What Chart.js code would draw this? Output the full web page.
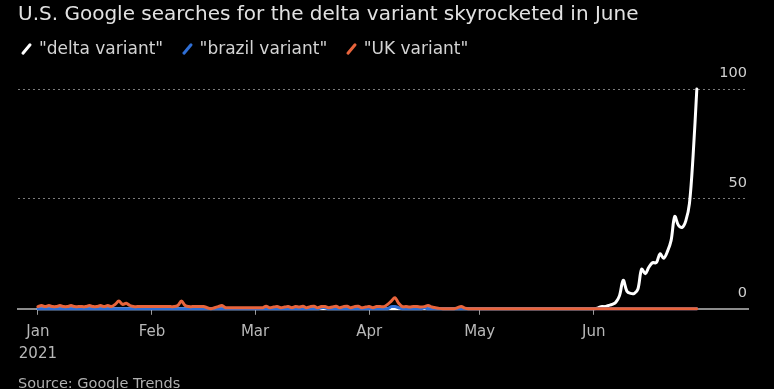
<!DOCTYPE html>
<html lang="en">
<head>
    <meta charset="UTF-8">
    <title>Delta variant searches</title>
    <script src="https://cdn.jsdelivr.net/npm/chart.js"></script>
    <style>
        body {
            margin: 0;
            background: #000;
            font-family: 'DejaVu Sans', sans-serif;
            overflow: hidden;
        }
        .wrap {
            position: relative;
            width: 774px;
            height: 389px;
        }
        .title {
            position: absolute;
            left: 18px;
            top: 1px;
            font-size: 20px;
            line-height: 25px;
            color: #e2e2e2;
            white-space: nowrap;
        }
        .legend {
            position: absolute;
            left: 20px;
            top: 37px;
            font-size: 17px;
            line-height: 22px;
            color: #d4d4d4;
            white-space: nowrap;
        }
        .legend span.item {
            margin-right: 12px;
        }
        .legend i {
            display: inline-block;
            width: 3px;
            height: 14px;
            border-radius: 2px;
            transform: rotate(40deg);
            margin: 0 11px -2px 5px;
        }
        .source {
            position: absolute;
            left: 18px;
            top: 375px;
            font-size: 14.5px;
            color: #b0b0b0;
            white-space: nowrap;
        }
        .chart-box {
            position: absolute;
            left: 0;
            top: 0;
            width: 774px;
            height: 389px;
        }
    </style>
</head>
<body>
<div class="wrap">
    <div class="chart-box"><canvas id="searchChart"></canvas></div>
    <div class="title">U.S. Google searches for the delta variant skyrocketed in June</div>
    <div class="legend">
        <span class="item"><i style="background:#ffffff"></i>"delta variant"</span>
        <span class="item"><i style="background:#2f6fd6"></i>"brazil variant"</span>
        <span class="item"><i style="background:#e8643c"></i>"UK variant"</span>
    </div>
    <div class="source">Source: Google Trends</div>
</div>

<script>
    // daily values, Jan 1 .. Jun 29 2021 (index 0 = Jan 1)
    const deltaVariant = [
        0, 0, 0, 0, 0, 0, 0, 0, 0, 0, 0, 0, 0, 0, 0, 0, 0, 0, 0, 0,
        0, 0, 0, 0, 0, 0, 0, 0, 0, 0, 0, 0, 0, 0, 0, 0, 0, 0, 0, 0,
        0, 0, 0, 0, 0, 0, 0, 0, 0, 0, 0, 0, 0, 0, 0, 0, 0, 0, 0, 0,
        0, 0, 0, 0, 0, 0, 0, 0, 0, 0, 0, 0, 0, 0, 0, 0, 0, 0, 0, 0,
        0, 0, 0, 0, 0, 0, 0, 0, 0, 0, 0, 0, 0, 0, 0, 0, 0, 0, 0, 0,
        0, 0, 0, 0, 0, 0, 0, 0, 0, 0, 0, 0, 0, 0, 0, 0, 0, 0, 0, 0,
        0, 0, 0, 0, 0, 0, 0, 0, 0, 0, 0, 0, 0, 0, 0, 0, 0, 0, 0, 0,
        0, 0, 0, 0, 0, 0, 0, 0, 0, 0, 0,
        0, 0.3, 1, 1, 1.5, 2, 3, 6, 13, 8, 7, 7, 9, 18, 16, 19, 21, 21,
        25, 23, 26, 31, 42, 38, 37, 40, 48, 70, 100
    ];

    const brazilVariant = [
        0, 0, 0, 0, 0, 0, 0, 0, 0, 0, 0, 0, 0, 0, 0, 0, 0, 0, 0, 0,
        0, 0, 0, 0, 0, 0, 0, 0, 0, 0, 0, 0, 0, 0, 0, 0, 0, 0, 0, 0,
        0, 0, 0, 0, 0, 0, 0, 0, 0, 0, 0, 0, 0, 0, 0, 0, 0, 0, 0, 0,
        0, 0, 0, 0, 0, 0, 0, 0, 0, 0, 0, 0, 0, 0, 0, 0, 0, 0.5, 0.5, 0,
        0, 0, 0, 0, 0, 0, 0, 0, 0, 0, 0, 0, 0, 0, 0, 0, 1, 1, 0.5, 0,
        0, 0, 0, 0, 0, 0.5, 0, 0, 0, 0, 0, 0, 0, 0, 0, 0, 0, 0, 0, 0,
        0, 0, 0, 0, 0, 0, 0, 0, 0, 0, 0, 0, 0, 0, 0, 0, 0, 0, 0, 0,
        0, 0, 0, 0, 0, 0, 0, 0, 0, 0, 0, 0, 0, 0, 0, 0, 0, 0, 0, 0,
        0, 0, 0, 0, 0, 0, 0, 0, 0, 0, 0, 0, 0, 0, 0, 0, 0, 0, 0, 0
    ];

    const ukVariant = [
        1, 1.5, 1, 1.5, 1, 1, 1.5, 1, 1, 1.5, 1, 1, 1, 1, 1.5, 1, 1, 1.5, 1, 1.5,
        1, 2, 3.5, 2, 2.5, 1.5, 1, 1, 1, 1, 1, 1, 1, 1, 1, 1, 1, 1, 1.5, 3.5,
        1.5, 1, 1, 1, 1, 1, 0.5, 0, 0.5, 1, 1.5, 0.5, 0.5, 0.5, 0.5, 0.5, 0.5, 0.5, 0.5, 0.5,
        0.5, 0.5, 1.2, 0.5, 0.8, 1, 0.5, 0.8, 1, 0.5, 1, 0.8, 1.2, 0.5, 1, 1.2, 0.5, 1, 1, 0.5,
        0.8, 1.2, 0.5, 1, 1.2, 0.5, 1, 1.2, 0.5, 0.8, 1, 0.5, 1, 1, 1, 2, 3.5, 5, 2.5, 1,
        1, 0.8, 1, 1, 0.8, 1, 1.5, 0.8, 0.5, 0.2, 0, 0, 0, 0, 0.5, 1, 0.3, 0, 0, 0,
        0, 0, 0, 0, 0, 0, 0, 0, 0, 0, 0, 0, 0, 0, 0, 0, 0, 0, 0, 0,
        0, 0, 0, 0, 0, 0, 0, 0, 0, 0, 0, 0, 0, 0, 0, 0, 0, 0, 0, 0,
        0, 0, 0, 0, 0, 0, 0, 0, 0, 0, 0, 0, 0, 0, 0, 0, 0, 0, 0, 0
    ];

    // first day of each month as index from Jan 1
    const monthStartDays = [0, 31, 59, 90, 120, 151];
    const monthLabels = [['Jan', '2021'], 'Feb', 'Mar', 'Apr', 'May', 'Jun'];
    const yTicks = [0, 50, 100];

    const toPoints = arr => arr.map((v, i) => ({ x: i, y: v }));

    const lineStyle = {
        borderWidth: 3,
        pointRadius: 0,
        tension: 0.35,
        borderJoinStyle: 'round',
        borderCapStyle: 'round',
        clip: false
    };

    const ctx = document.getElementById('searchChart').getContext('2d');
    new Chart(ctx, {
        type: 'line',
        data: {
            datasets: [
                // first dataset is drawn on top
                { label: '"UK variant"', data: toPoints(ukVariant), borderColor: '#e8643c', ...lineStyle },
                { label: '"brazil variant"', data: toPoints(brazilVariant), borderColor: '#2f6fd6', ...lineStyle },
                { label: '"delta variant"', data: toPoints(deltaVariant), borderColor: '#ffffff', ...lineStyle }
            ]
        },
        options: {
            responsive: true,
            maintainAspectRatio: false,
            animation: false,
            layout: {
                padding: { top: 89, left: 18, right: 26, bottom: 17 }
            },
            plugins: {
                legend: { display: false },
                tooltip: { enabled: false }
            },
            scales: {
                x: {
                    type: 'linear',
                    min: -5.4,
                    max: 192.9,
                    afterBuildTicks: scale => {
                        scale.ticks = monthStartDays.map(v => ({ value: v }));
                    },
                    ticks: {
                        autoSkip: false,
                        maxRotation: 0,
                        padding: 7,
                        color: '#b8b8b8',
                        font: { family: 'DejaVu Sans', size: 15, lineHeight: 1.44 },
                        callback: value => monthLabels[monthStartDays.indexOf(value)]
                    },
                    grid: {
                        drawOnChartArea: false,
                        drawTicks: true,
                        tickLength: 6,
                        tickColor: '#9a9a9a',
                        tickWidth: 1
                    },
                    border: { display: true, color: '#8c8c8c', width: 2 }
                },
                y: {
                    position: 'right',
                    min: 0,
                    max: 100,
                    afterBuildTicks: scale => {
                        scale.ticks = yTicks.map(v => ({ value: v }));
                    },
                    ticks: {
                        mirror: true,
                        padding: -1,
                        labelOffset: -16,
                        color: '#d0d0d0',
                        font: { family: 'DejaVu Sans', size: 14.5 }
                    },
                    grid: {
                        color: '#7a7a7a',
                        lineWidth: 1,
                        drawTicks: false
                    },
                    border: { display: false, dash: [2, 3] }
                }
            }
        }
    });
</script>
</body>
</html>
